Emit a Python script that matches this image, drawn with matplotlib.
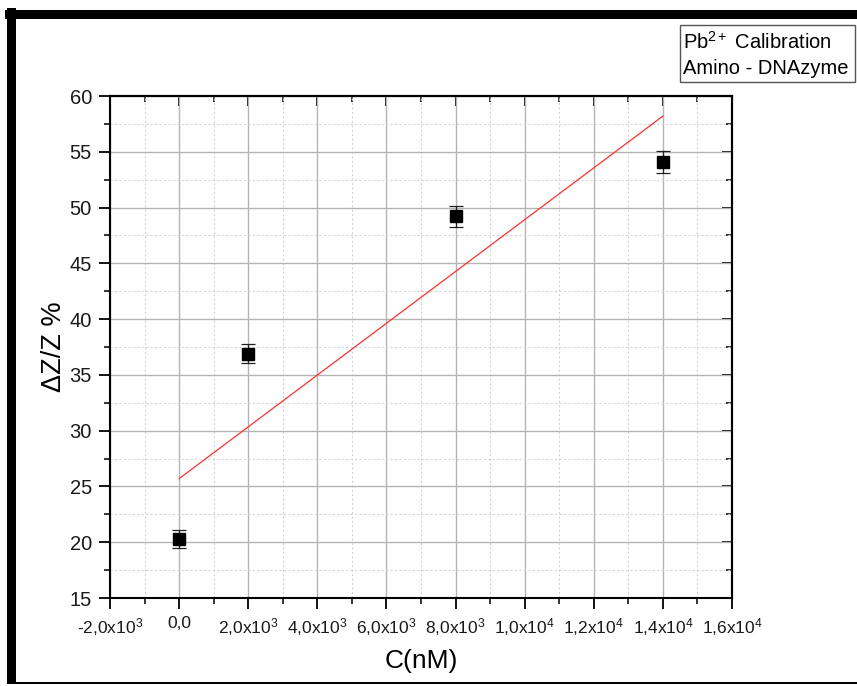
import matplotlib
matplotlib.use('Agg')
import matplotlib.pyplot as plt
from matplotlib.patches import Rectangle
from matplotlib.ticker import MultipleLocator

plt.rcParams['font.family'] = ['Liberation Sans', 'DejaVu Sans']
plt.rcParams['mathtext.fontset'] = 'custom'
plt.rcParams['mathtext.rm'] = 'Liberation Sans'
plt.rcParams['mathtext.it'] = 'Liberation Sans'

# Messwerte
conc = [0, 2000, 8000, 14000]
dz = [20.3, 36.9, 49.2, 54.1]
dz_err = [0.8, 0.85, 0.95, 1.0]

# lineare Anpassung (Endpunkte aus dem Bild)
fit_x = [0, 14000]
fit_y = [25.7, 58.2]

x_ticks = [-2000, 0, 2000, 4000, 6000, 8000, 10000, 12000, 14000, 16000]
x_labels = ['-2,0x10$^3$', '0,0', '2,0x10$^3$', '4,0x10$^3$', '6,0x10$^3$',
            '8,0x10$^3$', '1,0x10$^4$', '1,2x10$^4$', '1,4x10$^4$', '1,6x10$^4$']
y_ticks = [15, 20, 25, 30, 35, 40, 45, 50, 55, 60]

fig = plt.figure(figsize=(8.57, 6.86), dpi=100)
ax = fig.add_axes([110/857, 1-598/686, 622/857, 502/686])

ax.set_xlim(-2000, 16000)
ax.set_ylim(15, 60)
ax.set_xticks(x_ticks)
ax.set_xticklabels(x_labels)
ax.set_yticks(y_ticks)
ax.xaxis.set_minor_locator(MultipleLocator(1000))
ax.yaxis.set_minor_locator(MultipleLocator(2.5))

ax.grid(True, which='major', color='#b4b4b4', linewidth=1.0, linestyle='-')
ax.grid(True, which='minor', color='#d4d4d4', linewidth=0.8, linestyle=(0, (2, 2)))
ax.set_axisbelow(True)

ax.plot(fit_x, fit_y, color='#ff3030', linewidth=0.9, zorder=3)
ax.errorbar(conc, dz, yerr=dz_err, fmt='s', color='black', markersize=8,
            ecolor='#202020', elinewidth=0.9, capsize=5, capthick=0.9, zorder=4)

for s in ax.spines.values():
    s.set_linewidth(1.5)
    s.set_color('black')

ax.tick_params(which='major', direction='out', length=8, width=1.3,
               labelsize=12.5, pad=5, labelcolor='#1a1a1a')
ax.tick_params(which='minor', direction='out', length=4.5, width=1.1)
ax.tick_params(axis='y', labelsize=14.5, pad=5)

# Ticks oben und rechts nach innen
top = ax.secondary_xaxis('top')
top.set_xticks(x_ticks)
top.xaxis.set_minor_locator(MultipleLocator(1000))
top.tick_params(which='major', direction='in', length=7, width=1.3, labeltop=False)
top.tick_params(which='minor', direction='in', length=4, width=1.1)
top.spines['top'].set_linewidth(1.5)
right = ax.secondary_yaxis('right')
right.set_yticks(y_ticks)
right.yaxis.set_minor_locator(MultipleLocator(2.5))
right.tick_params(which='major', direction='in', length=7, width=1.3, labelright=False)
right.tick_params(which='minor', direction='in', length=4, width=1.1)
right.spines['right'].set_linewidth(1.5)

ax.set_xlabel('C(nM)', fontsize=19, labelpad=8)
ax.set_ylabel('ΔZ/Z %', fontsize=19.5, labelpad=2)

# Legende als Textkasten
fig.add_artist(Rectangle((680/857, 1-82/686), 175/857, 57/686, transform=fig.transFigure,
                         facecolor='white', edgecolor='#555555', linewidth=1.0))
fig.text(683/857, 1-42/686, 'Pb$^{2+}$ Calibration', fontsize=14.5, va='center', ha='left')
fig.text(683/857, 1-68/686, 'Amino - DNAzyme', fontsize=14.5, va='center', ha='left')

# schwarzer Rahmen
fig.add_artist(Rectangle((5/857, 1-19/686), 852/857, 9/686, transform=fig.transFigure,
                         facecolor='black', edgecolor='none'))
fig.add_artist(Rectangle((7/857, 2/686), 9/857, 676/686, transform=fig.transFigure,
                         facecolor='black', edgecolor='none'))
fig.add_artist(Rectangle((7/857, 2/686), 850/857, 2/686, transform=fig.transFigure,
                         facecolor='black', edgecolor='none'))

fig.savefig('out.png', dpi=100)
